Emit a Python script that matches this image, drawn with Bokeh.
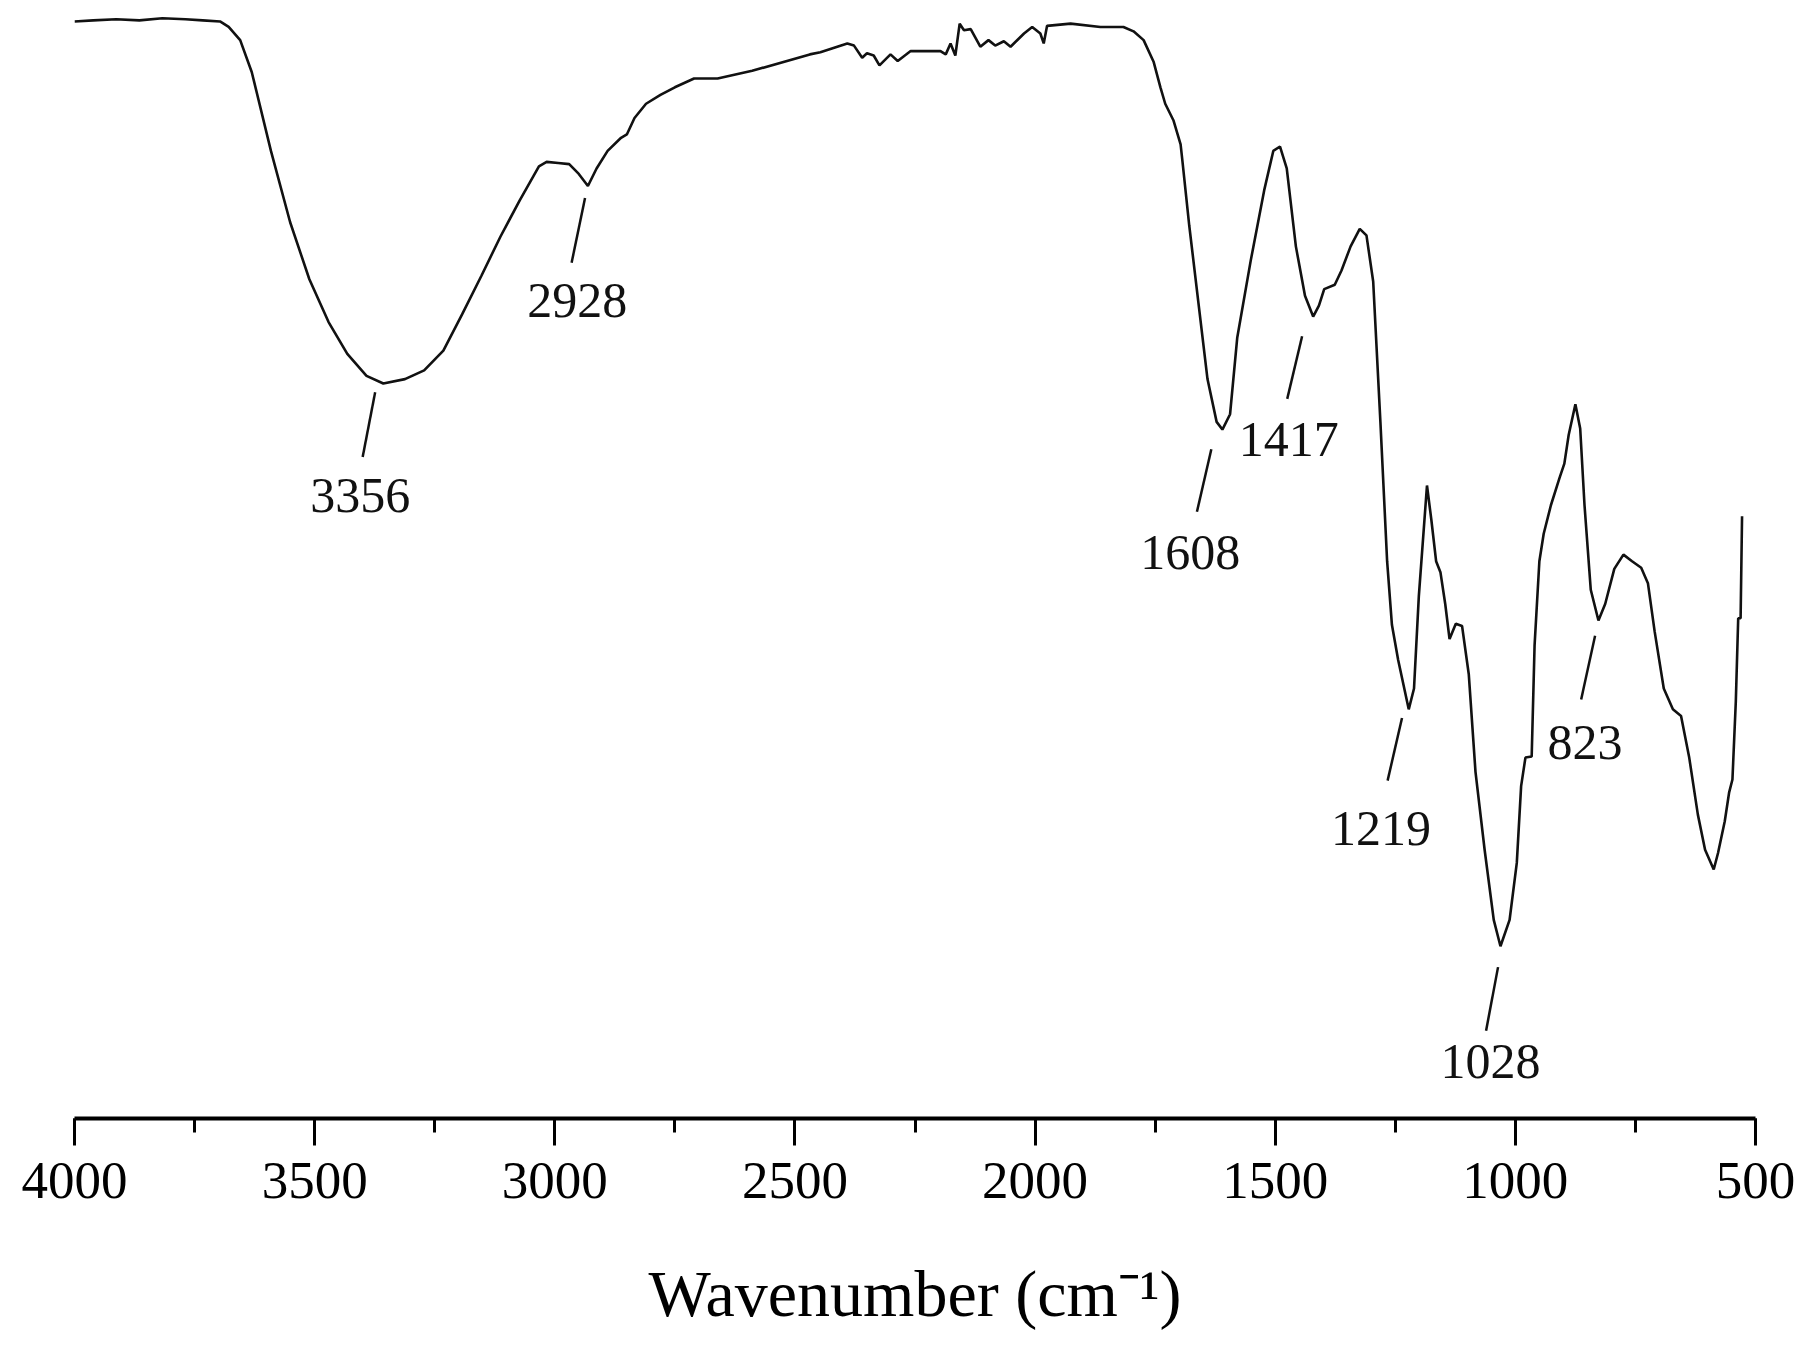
from bokeh.plotting import figure
from bokeh.models import Range1d, SingleIntervalTicker, ColumnDataSource
from bokeh.embed import file_html
from bokeh.resources import INLINE
from bokeh.core.properties import value

# FTIR spectrum (wavenumber in cm-1, transmittance in a.u.)
wavenumber = [
    4000, 3961, 3913, 3865, 3817, 3769, 3733, 3697, 3679, 3655, 3631, 3591,
    3551, 3511, 3471, 3432, 3392, 3357, 3312, 3272, 3232, 3193, 3153, 3113,
    3073, 3033, 3017, 2993, 2970, 2950, 2931, 2913, 2890, 2862, 2850, 2834,
    2810, 2780, 2750, 2710, 2661, 2589, 2469, 2447, 2391, 2377, 2360, 2350,
    2336, 2324, 2301, 2286, 2259, 2197, 2186, 2176, 2166, 2157, 2148, 2134,
    2114, 2097, 2083, 2065, 2051, 2023, 2006, 1989, 1982, 1975, 1926, 1864,
    1816, 1795, 1774, 1753, 1739, 1729, 1712, 1697, 1693, 1679, 1660, 1641,
    1622, 1610, 1594, 1579, 1551, 1523, 1504, 1490, 1476, 1457, 1438, 1421,
    1409, 1398, 1376, 1362, 1343, 1324, 1310, 1296, 1281, 1267, 1257, 1244,
    1222, 1211, 1201, 1184, 1175, 1165, 1156, 1146, 1137, 1124, 1111, 1097,
    1083, 1064, 1045, 1031, 1012, 997, 988, 979, 966, 960, 950, 941,
    926, 908, 898, 889, 875, 865, 856, 843, 827, 813, 794, 775,
    757, 738, 724, 710, 691, 672, 655, 638, 620, 605, 587, 578,
    564, 555, 548, 541, 536, 531, 528,
]
transmittance = [
    100.0, 100.1, 100.2, 100.1, 100.3, 100.2, 100.1, 100.0, 99.5, 98.3, 95.4, 88.2,
    81.7, 76.5, 72.6, 69.7, 67.7, 67.0, 67.4, 68.2, 70.0, 73.3, 76.8, 80.4,
    83.7, 86.8, 87.2, 87.1, 87.0, 86.1, 85.0, 86.6, 88.2, 89.4, 89.7, 91.2,
    92.5, 93.3, 94.0, 94.8, 94.8, 95.5, 97.0, 97.2, 98.0, 97.8, 96.7, 97.1,
    96.9, 96.0, 97.0, 96.4, 97.3, 97.3, 97.0, 98.0, 96.9, 99.8, 99.2, 99.3,
    97.7, 98.3, 97.8, 98.2, 97.7, 98.9, 99.5, 98.9, 98.0, 99.6, 99.8, 99.5,
    99.5, 99.1, 98.3, 96.3, 94.0, 92.5, 91.0, 88.8, 87.2, 81.4, 74.4, 67.4,
    63.5, 62.8, 64.2, 71.2, 78.2, 84.6, 88.2, 88.6, 86.6, 79.5, 75.0, 73.1,
    74.1, 75.6, 76.0, 77.3, 79.5, 81.1, 80.5, 76.3, 63.5, 50.8, 45.0, 41.8,
    37.3, 39.2, 47.6, 57.7, 54.6, 50.8, 49.8, 46.9, 43.7, 45.1, 44.9, 40.5,
    31.6, 24.5, 18.1, 15.7, 18.1, 23.3, 30.3, 32.9, 33.0, 43.1, 50.8, 53.3,
    55.9, 58.4, 59.7, 62.3, 65.1, 62.9, 55.9, 48.2, 45.4, 46.9, 50.1, 51.4,
    50.8, 50.2, 48.8, 44.4, 39.2, 37.3, 36.7, 32.9, 27.7, 24.5, 22.7, 24.2,
    27.1, 29.7, 30.9, 38.0, 45.6, 45.6, 54.9,
]

# labelled absorption bands
peak_labels = ["3356", "2928", "1608", "1417", "1219", "1028", "823"]

# annotation layout (leader line start/end and label centre, in data units)
leader_x0 = [3374, 2937, 1633, 1444, 1236, 1036, 834]
leader_y0 = [66.2, 83.9, 61.0, 71.3, 36.5, 13.8, 44.0]
leader_x1 = [3400, 2965, 1663, 1475, 1266, 1061, 863]
leader_y1 = [60.3, 78.0, 55.3, 65.6, 30.8, 8.0, 38.2]
label_x = [3405, 2953, 1677, 1472, 1280, 1052, 855]
label_y = [56.8, 74.6, 51.6, 61.9, 26.45, 5.2, 34.3]

SERIF = "Liberation Serif"

p = figure(
    width=1797, height=1336,
    output_backend="svg", toolbar_location=None,
    x_range=Range1d(4000, 500), y_range=Range1d(0, 101),
    y_axis_location=None,
    min_border_left=74, min_border_right=42,
    min_border_top=10, min_border_bottom=218,
)
p.outline_line_color = None
p.grid.visible = False
p.background_fill_color = "white"
p.border_fill_color = "white"

ax = p.xaxis[0]
ax.ticker = SingleIntervalTicker(interval=500, num_minor_ticks=2)
ax.axis_line_width = 4
ax.axis_line_color = "black"
ax.major_tick_line_width = 3
ax.major_tick_line_color = "black"
ax.major_tick_out = 27
ax.major_tick_in = 0
ax.minor_tick_line_width = 3
ax.minor_tick_line_color = "black"
ax.minor_tick_out = 14
ax.minor_tick_in = 0
ax.major_label_text_font = SERIF
ax.major_label_text_font_size = "53px"
ax.major_label_text_color = "black"
ax.major_label_standoff = 17
ax.axis_label = "Wavenumber (cm\u207b\u00b9)"
ax.axis_label_text_font = SERIF
ax.axis_label_text_font_size = "66px"
ax.axis_label_text_font_style = "normal"
ax.axis_label_text_color = "black"
ax.axis_label_standoff = 56

p.line(wavenumber, transmittance, line_color="#111111", line_width=2.6)

src = ColumnDataSource(dict(
    x0=leader_x0, y0=leader_y0, x1=leader_x1, y1=leader_y1,
    lx=label_x, ly=label_y, txt=peak_labels,
))
p.segment(x0="x0", y0="y0", x1="x1", y1="y1", source=src, line_color="#111111", line_width=2.5)
p.text(x="lx", y="ly", text="txt", source=src,
       text_font=value(SERIF), text_font_size="50px", text_color="#111111",
       text_align="center", text_baseline="middle")

open("out.html", "w").write(file_html(p, INLINE))
